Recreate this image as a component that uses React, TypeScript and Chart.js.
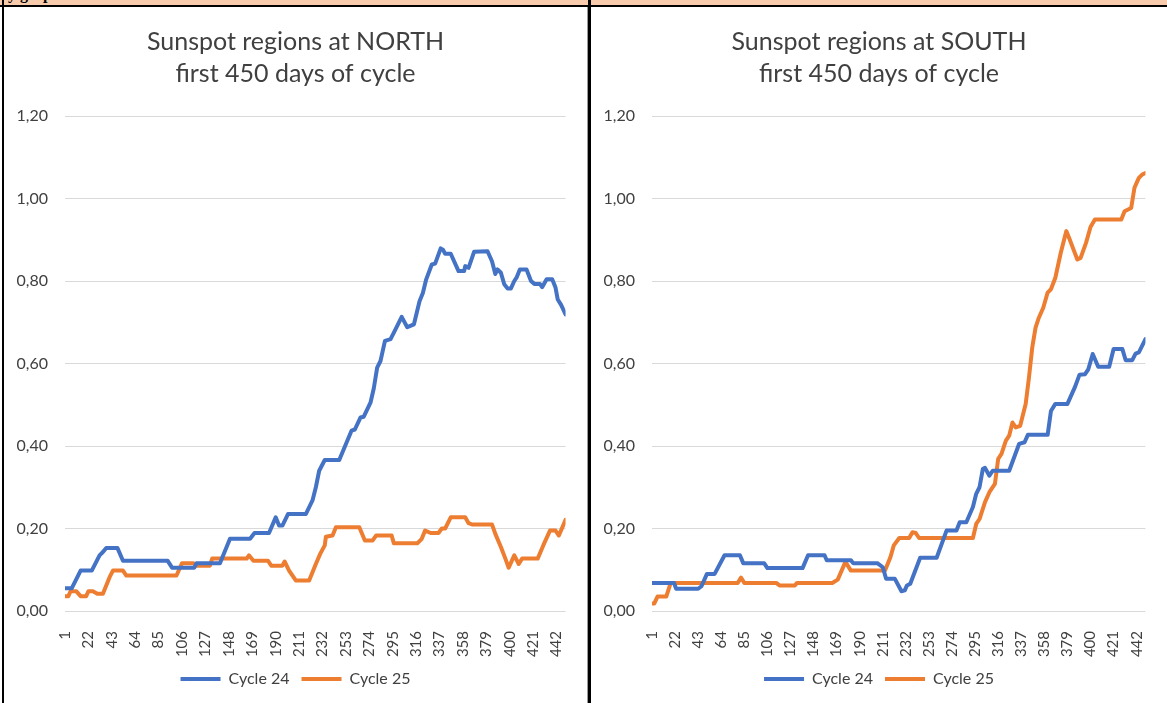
import React, { useEffect, useRef } from 'react';
import { Chart, registerables } from 'chart.js';

Chart.register(...registerables);

const seriesNames = ['Cycle 24', 'Cycle 25'];
const seriesColors = ['#4472C4', '#ED7D31'];
const northTitle = ['Sunspot regions at NORTH', 'first 450 days of cycle'];
const southTitle = ['Sunspot regions at SOUTH', 'first 450 days of cycle'];
const xTickLabels = ['1', '22', '43', '64', '85', '106', '127', '148', '169', '190', '211', '232', '253', '274', '295', '316', '337', '358', '379', '400', '421', '442'];
const dayMin = 1;
const dayMax = 450;
const yMin = 0;
const yMax = 1.2;
const yStep = 0.2;

// [day, value] readings
const north24: [number, number][] = [
  [1, 0.055], [7, 0.055], [15, 0.098], [25, 0.098], [32, 0.135], [35, 0.143], [38, 0.153], [48, 0.153], [53, 0.122], [93, 0.122],
  [97, 0.105], [117, 0.105], [119, 0.116], [140, 0.116], [149, 0.175], [167, 0.175], [171, 0.189], [184, 0.189], [190, 0.227], [193, 0.207],
  [196, 0.207], [201, 0.235], [217, 0.235], [223, 0.268], [226, 0.3], [229, 0.34], [234, 0.366], [247, 0.366], [253, 0.405], [258, 0.437],
  [261, 0.44], [266, 0.469], [269, 0.471], [275, 0.505], [278, 0.54], [281, 0.59], [284, 0.606], [288, 0.655], [293, 0.659], [296, 0.675],
  [303, 0.713], [308, 0.688], [314, 0.695], [319, 0.751], [322, 0.771], [325, 0.804], [330, 0.84], [333, 0.842], [338, 0.879], [340, 0.876],
  [342, 0.866], [347, 0.866], [354, 0.824], [359, 0.824], [360, 0.836], [363, 0.832], [368, 0.871], [380, 0.872], [384, 0.848], [387, 0.817],
  [389, 0.828], [392, 0.82], [395, 0.792], [398, 0.782], [401, 0.782], [404, 0.8], [406, 0.808], [409, 0.828], [415, 0.828], [419, 0.8],
  [422, 0.793], [427, 0.793], [429, 0.785], [433, 0.804], [438, 0.804], [441, 0.784], [443, 0.755], [446, 0.742], [450, 0.719],
];

const north25: [number, number][] = [
  [1, 0.036], [4, 0.036], [6, 0.048], [11, 0.048], [15, 0.036], [20, 0.036], [22, 0.048], [26, 0.048], [30, 0.042], [35, 0.042],
  [41, 0.082], [44, 0.098], [53, 0.098], [56, 0.086], [101, 0.086], [106, 0.116], [116, 0.116], [119, 0.11], [131, 0.11], [133, 0.127],
  [164, 0.127], [166, 0.135], [170, 0.122], [183, 0.122], [186, 0.11], [196, 0.11], [198, 0.12], [202, 0.098], [208, 0.074], [220, 0.074],
  [226, 0.114], [230, 0.139], [234, 0.159], [235, 0.18], [241, 0.183], [244, 0.203], [265, 0.203], [270, 0.171], [277, 0.171], [280, 0.183],
  [294, 0.183], [296, 0.164], [317, 0.164], [321, 0.175], [324, 0.195], [329, 0.189], [336, 0.189], [339, 0.2], [342, 0.2], [347, 0.227],
  [360, 0.227], [363, 0.213], [366, 0.21], [384, 0.21], [387, 0.187], [392, 0.155], [396, 0.127], [399, 0.105], [404, 0.135], [408, 0.114],
  [411, 0.127], [425, 0.127], [430, 0.159], [436, 0.195], [441, 0.195], [444, 0.183], [450, 0.221],
];

const south24: [number, number][] = [
  [1, 0.068], [21, 0.068], [23, 0.054], [43, 0.054], [46, 0.06], [51, 0.09], [58, 0.09], [67, 0.135], [81, 0.135], [84, 0.116],
  [103, 0.116], [106, 0.104], [138, 0.104], [143, 0.135], [158, 0.135], [160, 0.123], [182, 0.123], [184, 0.116], [206, 0.116], [211, 0.106],
  [214, 0.078], [222, 0.078], [228, 0.048], [231, 0.05], [233, 0.062], [236, 0.066], [245, 0.129], [260, 0.129], [269, 0.195], [278, 0.195],
  [281, 0.215], [287, 0.215], [293, 0.252], [296, 0.284], [299, 0.3], [302, 0.344], [304, 0.347], [308, 0.328], [311, 0.34], [326, 0.34],
  [335, 0.405], [340, 0.409], [343, 0.427], [361, 0.427], [364, 0.485], [368, 0.502], [379, 0.502], [386, 0.544], [390, 0.573], [395, 0.574],
  [398, 0.586], [402, 0.623], [407, 0.592], [417, 0.592], [421, 0.635], [429, 0.635], [432, 0.608], [438, 0.608], [441, 0.624], [444, 0.627],
  [450, 0.659],
];

const south25: [number, number][] = [
  [1, 0.018], [3, 0.018], [6, 0.035], [14, 0.035], [18, 0.068], [79, 0.068], [82, 0.081], [85, 0.068], [114, 0.068], [117, 0.062],
  [131, 0.062], [133, 0.068], [165, 0.068], [170, 0.076], [177, 0.119], [182, 0.098], [213, 0.098], [218, 0.131], [221, 0.159], [226, 0.177],
  [235, 0.177], [238, 0.191], [241, 0.189], [244, 0.177], [293, 0.177], [296, 0.211], [299, 0.223], [304, 0.264], [308, 0.288], [313, 0.308],
  [316, 0.369], [319, 0.381], [323, 0.413], [326, 0.425], [329, 0.457], [332, 0.445], [336, 0.449], [341, 0.502], [344, 0.566], [347, 0.639],
  [350, 0.687], [353, 0.711], [357, 0.735], [361, 0.772], [364, 0.78], [368, 0.808], [373, 0.869], [378, 0.921], [381, 0.901], [385, 0.873],
  [388, 0.852], [391, 0.856], [396, 0.893], [400, 0.931], [404, 0.949], [428, 0.949], [431, 0.969], [437, 0.977], [440, 1.026], [444, 1.05],
  [447, 1.058], [450, 1.062],
];

const FONT = 'Lato';
const TEXT = '#404040';

type PanelProps = {
  title: string[];
  s24: [number, number][];
  s25: [number, number][];
  width: number;
  height: number;
  leftAxis: number;
  rightGap: number;
};

function ChartPanel({ title, s24, s25, width, height, leftAxis, rightGap }: PanelProps) {
  const ref = useRef<HTMLCanvasElement | null>(null);
  useEffect(() => {
    if (!ref.current) return;
    const tickValues = xTickLabels.map(Number);
    const chart = new Chart(ref.current, {
      type: 'line',
      data: {
        datasets: [s24, s25].map((s, i) => ({
          label: seriesNames[i],
          data: s.map(([x, y]) => ({ x, y })),
          borderColor: seriesColors[i],
          backgroundColor: seriesColors[i],
          borderWidth: 4,
          pointRadius: 0,
          tension: 0,
          borderJoinStyle: 'round' as const,
          borderCapStyle: 'round' as const,
          yAxisID: 'y',
        })),
      },
      options: {
        animation: false,
        responsive: false,
        layout: { padding: { left: 0, right: 0, top: 0, bottom: 6 } },
        scales: {
          x: {
            type: 'linear',
            min: dayMin,
            max: dayMax,
            grid: { display: false },
            border: { display: false },
            afterBuildTicks: (axis: any) => {
              axis.ticks = tickValues.map((v) => ({ value: v }));
            },
            afterFit: (axis: any) => {
              axis.height = 48;
            },
            ticks: {
              autoSkip: false,
              minRotation: 90,
              maxRotation: 90,
              padding: 12,
              color: TEXT,
              font: { family: FONT, size: 15 },
              callback: (v: any) => String(v),
            },
          },
          y: {
            position: 'left',
            min: yMin,
            max: yMax,
            grid: { color: '#D9D9D9', lineWidth: 1, drawTicks: false },
            border: { display: false },
            afterFit: (axis: any) => {
              axis.width = leftAxis;
            },
            ticks: {
              stepSize: yStep,
              padding: 17,
              color: TEXT,
              font: { family: FONT, size: 16 },
              callback: (v: any) => Number(v).toFixed(2).replace('.', ','),
            },
          },
          gap: {
            position: 'right',
            display: true,
            grid: { display: false },
            border: { display: false },
            ticks: { display: false },
            afterFit: (axis: any) => {
              axis.width = rightGap;
            },
          },
        },
        plugins: {
          title: {
            display: true,
            text: title,
            color: TEXT,
            font: { family: FONT, size: 25, weight: 'normal', lineHeight: 1.28 },
            padding: { top: 19, bottom: 26 },
          },
          legend: {
            position: 'bottom',
            labels: {
              boxWidth: 40,
              boxHeight: 4,
              padding: 12,
              color: TEXT,
              font: { family: FONT, size: 16 },
              generateLabels: (c: any) =>
                (Chart.defaults.plugins.legend.labels as any).generateLabels(c).map((l: any) => ({ ...l, lineWidth: 0 })),
            },
          },
          tooltip: { enabled: false },
        },
      } as any,
    });
    return () => chart.destroy();
  }, [title, s24, s25, width, height, leftAxis, rightGap]);
  return <canvas ref={ref} width={width} height={height} style={{ display: 'block', width, height }} />;
}

export default function App() {
  return (
    <div style={{ position: 'fixed', left: 0, top: 0, width: 1167, height: 703, overflow: 'hidden', background: '#ffffff' }}>
      <div style={{ position: 'absolute', left: 0, top: 0, width: 1167, height: 5, background: '#F8CBAD', overflow: 'hidden' }}>
        <span
          style={{
            position: 'absolute',
            left: 8,
            top: -14,
            font: 'bold 16px "Liberation Serif"',
            lineHeight: '16px',
            color: '#000',
            whiteSpace: 'nowrap',
          }}
        >
          y graph
        </span>
      </div>
      <div style={{ position: 'absolute', left: 0, top: 5, width: 1167, height: 2, background: '#000' }} />
      <div style={{ position: 'absolute', left: 2, top: 0, width: 2, height: 703, background: '#000' }} />
      <div style={{ position: 'absolute', left: 587, top: 7, width: 1, height: 696, background: '#9a9a9a' }} />
      <div style={{ position: 'absolute', left: 588, top: 0, width: 3, height: 703, background: '#000' }} />
      <div style={{ position: 'absolute', left: 4, top: 7 }}>
        <ChartPanel title={northTitle} s24={north24} s25={north25} width={583} height={696} leftAxis={61} rightGap={20} />
      </div>
      <div style={{ position: 'absolute', left: 591, top: 7 }}>
        <ChartPanel title={southTitle} s24={south24} s25={south25} width={576} height={696} leftAxis={61} rightGap={18.7} />
      </div>
    </div>
  );
}
